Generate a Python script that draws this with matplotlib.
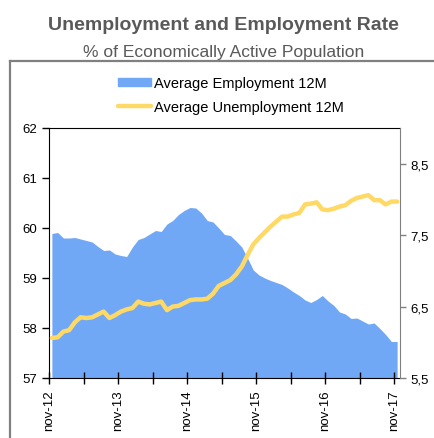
import numpy as np
import matplotlib.pyplot as plt
from matplotlib.patches import Patch
from matplotlib.lines import Line2D

# monthly, nov-12 .. nov-17
employment = [59.89, 59.91, 59.80, 59.80, 59.81, 59.78, 59.75, 59.72, 59.63, 59.55,
              59.56, 59.48, 59.45, 59.43, 59.62, 59.77, 59.81, 59.88, 59.95, 59.93,
              60.08, 60.15, 60.27, 60.35, 60.41, 60.40, 60.30, 60.15, 60.12, 60.00,
              59.87, 59.85, 59.74, 59.62, 59.40, 59.16, 59.06, 59.00, 58.95, 58.91,
              58.87, 58.80, 58.72, 58.65, 58.56, 58.51, 58.57, 58.65, 58.54, 58.45,
              58.32, 58.28, 58.19, 58.20, 58.14, 58.08, 58.10, 57.99, 57.87, 57.73,
              57.73]
unemployment = [6.06, 6.07, 6.15, 6.17, 6.28, 6.35, 6.34, 6.35, 6.39, 6.43,
                6.34, 6.38, 6.43, 6.46, 6.48, 6.57, 6.54, 6.53, 6.55, 6.57,
                6.45, 6.50, 6.51, 6.55, 6.59, 6.60, 6.60, 6.61, 6.68, 6.79,
                6.83, 6.87, 6.95, 7.06, 7.22, 7.37, 7.46, 7.54, 7.62, 7.69,
                7.76, 7.76, 7.79, 7.81, 7.93, 7.94, 7.96, 7.86, 7.85, 7.87,
                7.90, 7.92, 7.98, 8.02, 8.04, 8.06, 7.99, 7.99, 7.93, 7.97,
                7.97]
tick_labels = ['nov-12', 'nov-13', 'nov-14', 'nov-15', 'nov-16', 'nov-17']
left_ticks = [57, 58, 59, 60, 61, 62]
right_ticks = [5.5, 6.5, 7.5, 8.5]

blue = '#70a8f5'
yellow = '#ffd966'
plt.rcParams['font.family'] = ['Liberation Sans', 'DejaVu Sans']

fig = plt.figure(figsize=(4.35, 4.39), dpi=100)
# gray frame on left and top
fig.add_artist(Line2D([10/435, 10/435], [0, 1-62/439], color='#808080', lw=1.6,
                      transform=fig.transFigure))
fig.add_artist(Line2D([10/435, 1], [1-62/439, 1-62/439], color='#808080', lw=1.6,
                      transform=fig.transFigure))

fig.text(0.513, 1-25/439, 'Unemployment and Employment Rate', ha='center', va='center',
         fontsize=14, fontweight='bold', color='#595959')
fig.text(0.513, 1-52/439, '% of Economically Active Population', ha='center', va='center',
         fontsize=12.5, color='#595959')

ax = fig.add_axes([49/435, 1-379/439, 351/435, 250/439])
x = np.arange(len(employment)) + 0.5
ax.fill_between(x, 57, employment, color=blue, lw=0)
ax.set_xlim(0, 61)
ax.set_ylim(57, 62)
ax.set_yticks(left_ticks)
ax.set_xticks(np.arange(0, 61, 12))
ax.set_xticklabels(tick_labels, rotation=90)
ax.set_xticks(np.arange(6, 61, 12), minor=True)
ax.tick_params(axis='x', which='both', direction='inout', length=9, width=1, labelsize=9.5)
ax.tick_params(axis='y', direction='out', length=5, width=1, labelsize=9.5)
for s in ['left', 'bottom', 'top']:
    ax.spines[s].set_color('black')
ax.spines['right'].set_visible(False)

ax2 = ax.twinx()
ax2.plot(x, unemployment, color=yellow, lw=3.2, solid_capstyle='round')
ax2.set_ylim(5.5, 9.0)
ax2.set_yticks(right_ticks)
ax2.set_yticklabels([str(t).replace('.', ',') for t in right_ticks])
ax2.tick_params(axis='y', direction='out', length=4, width=1, color='#808080', labelsize=9.5)
ax2.spines['right'].set_color('#808080')
for s in ['left', 'bottom', 'top']:
    ax2.spines[s].set_visible(False)

handles = [Patch(color=blue), Line2D([], [], color=yellow, lw=3.2, solid_capstyle='round')]
fig.legend(handles, ['Average Employment 12M', 'Average Unemployment 12M'],
           loc='upper center', bbox_to_anchor=(231/435, 1-70/439), frameon=False,
           fontsize=10.5, handlelength=2.3, handleheight=0.5, handletextpad=0.2,
           labelspacing=0.65, borderpad=0)

fig.savefig('out.png', dpi=100)
